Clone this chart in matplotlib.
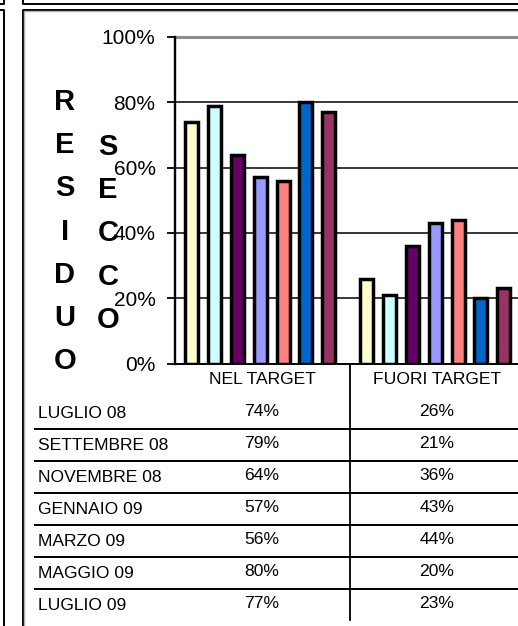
import matplotlib
matplotlib.use("Agg")
import matplotlib.pyplot as plt
import numpy as np

plt.rcParams['font.family'] = ['Liberation Sans', 'DejaVu Sans']

categories = ["NEL TARGET", "FUORI TARGET"]
periods = ["LUGLIO 08", "SETTEMBRE 08", "NOVEMBRE 08", "GENNAIO 09",
           "MARZO 09", "MAGGIO 09", "LUGLIO 09"]
nel_target = [74, 79, 64, 57, 56, 80, 77]
fuori_target = [26, 21, 36, 43, 44, 20, 23]
colors = ["#FFFFCC", "#CCFFFF", "#660066", "#9999FF", "#FF8080", "#0066CC", "#993366"]
y_ticks = [0, 20, 40, 60, 80, 100]
title_left = "RESIDUO"
title_right = "SECCO"

W, H = 518, 626
fig = plt.figure(figsize=(W / 100, H / 100), dpi=100)

def fx(px):
    return px / W

def fy(py):
    return 1 - py / H

# main plot axes (extends past right edge like the original)
ax_left, ax_right, ax_top, ax_bot = 175, 525, 37, 363.5
ax = fig.add_axes([fx(ax_left), fy(ax_bot), fx(ax_right - ax_left), (ax_bot - ax_top) / H])
ax.set_xlim(0, 2)
ax.set_ylim(0, 100)

pitch = 0.1305
bw = 0.074
n = len(periods)
for i in range(n):
    off = 0.487 + (i - (n - 1) / 2) * pitch
    vals = [nel_target[i], fuori_target[i]]
    ax.bar([c + off for c in range(len(categories))], vals, width=bw,
           color=colors[i], edgecolor="black", linewidth=2.5, zorder=3)

ax.set_yticks(y_ticks)
ax.set_yticklabels([f"{v}%" for v in y_ticks], fontsize=15)
ax.tick_params(axis='y', direction='out', length=6, width=1.3, pad=8, colors='black')
ax.set_xticks([])
for v in y_ticks[1:-1]:
    ax.axhline(v, color='black', linewidth=1.1, zorder=1)
ax.axhline(100, color='#8c8c8c', linewidth=2.2, zorder=1, clip_on=False)
for s in ['top', 'right']:
    ax.spines[s].set_visible(False)
ax.spines['left'].set_linewidth(1.7)
ax.spines['bottom'].set_linewidth(1.4)

# overlay for frames and table in pixel coordinates
ov = fig.add_axes([0, 0, 1, 1], facecolor='none')
ov.set_xlim(0, W)
ov.set_ylim(H, 0)
ov.axis('off')

# frames
ov.plot([0, 4, 4], [4, 4, 0], color='black', lw=1.4)
ov.plot([0, 4, 4], [10, 10, H], color='black', lw=1.4)
ov.plot([22.5, 22.5, W], [0, 4, 4], color='black', lw=1.4)
ov.plot([22.5, 22.5, W], [H, 9.5, 9.5], color='black', lw=1.4)
ov.plot([24, 24, W], [H, 11, 11], color='#b0b0b0', lw=1.0)

# vertical title letters
for k, ch in enumerate(title_left):
    ov.text(65, 102 + k * 43.2, ch, fontsize=21, fontweight='bold',
            ha='center', va='center')
for k, ch in enumerate(title_right):
    ov.text(108, 147 + k * 43.2, ch, fontsize=21, fontweight='bold',
            ha='center', va='center')

# data table
col_centers = [262, 437]
for c, name in enumerate(categories):
    ov.text(col_centers[c], 380, name, fontsize=12.6, ha='center', va='center')
ov.plot([350, 350], [ax_bot, 620], color='black', lw=1.3)
row_h = 32
for r, p in enumerate(periods):
    yc = 413 + r * row_h
    ov.text(38, yc + 1, p, fontsize=12.6, ha='left', va='center')
    ov.text(col_centers[0], yc - 1.5, f"{nel_target[r]}%", fontsize=12.6, ha='center', va='center')
    ov.text(col_centers[1], yc - 1.5, f"{fuori_target[r]}%", fontsize=12.6, ha='center', va='center')
    if r < n - 1:
        ov.plot([35, W], [yc + 15.5, yc + 15.5], color='black', lw=1.4)

fig.savefig("out.png", dpi=100)
